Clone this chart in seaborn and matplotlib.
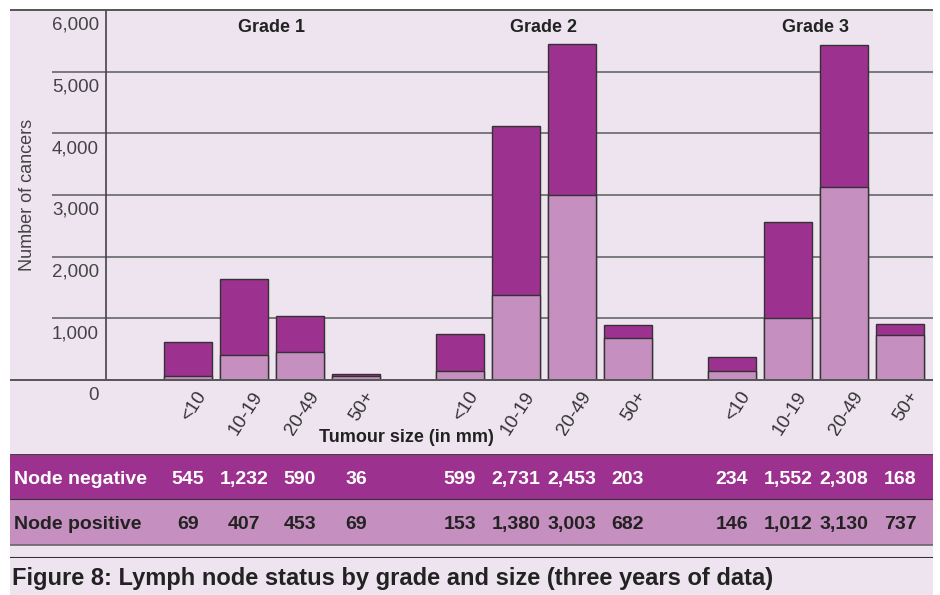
import seaborn as sns
import matplotlib.pyplot as plt
import pandas as pd
from matplotlib.patches import Rectangle
from matplotlib.transforms import ScaledTranslation

grades = ["Grade 1", "Grade 2", "Grade 3"]
sizes = ["<10", "10-19", "20-49", "50+"]
node_negative = [545, 1232, 590, 36, 599, 2731, 2453, 203, 234, 1552, 2308, 168]
node_positive = [69, 407, 453, 69, 153, 1380, 3003, 682, 146, 1012, 3130, 737]
y_ticks = [0, 1000, 2000, 3000, 4000, 5000, 6000]

BG = "#EEE4F0"
DARK = "#9C318F"
LIGHT = "#C58FC0"
TXT = "#222222"
GREY = "#444444"

sns.set_style("white")
plt.rcParams["font.family"] = ["Liberation Sans", "DejaVu Sans"]

W, H = 940, 595
GROUP_STEP = 4.857


def x_of_px(px):
    # pixel -> data unit mapping (one bar slot = 56 px, first bar centre at 188 px)
    return (px - 188) / 56


pos = [g * GROUP_STEP + i for g in range(len(grades)) for i in range(len(sizes))]
df = pd.DataFrame({
    "pos": pos,
    "size": sizes * len(grades),
    "negative": node_negative,
    "positive": node_positive,
})
df["total"] = df["negative"] + df["positive"]

fig = plt.figure(figsize=(W / 100, H / 100), dpi=100)
fig.patch.set_facecolor("white")
fig.patches.append(Rectangle((10 / W, 0), 923 / W, (H - 10) / H,
                             transform=fig.transFigure, facecolor=BG, edgecolor="none", zorder=-10))

ax = fig.add_axes([106 / W, 1 - 380 / H, 827 / W, 370 / H])
ax.set_facecolor(BG)

# stacked bars: total (node negative on top), then node positive at the bottom
sns.barplot(data=df, x="pos", y="total", native_scale=True, color=DARK, saturation=1,
            width=0.84, edgecolor="#333333", linewidth=1, errorbar=None, ax=ax, zorder=2)
sns.barplot(data=df, x="pos", y="positive", native_scale=True, color=LIGHT, saturation=1,
            width=0.84, edgecolor="#333333", linewidth=1, errorbar=None, ax=ax, zorder=3)

ax.set_xlim(x_of_px(106), x_of_px(933))
ax.set_ylim(0, 6000)

# grid lines extend into the label area, the frame lines to the panel edge
ax.hlines(y_ticks[1:-1], x_of_px(52), x_of_px(933), color="#666666", lw=1.2, zorder=1, clip_on=False)
ax.hlines([0, 6000], x_of_px(10), x_of_px(933), color="#555555", lw=1.4, zorder=4, clip_on=False)

for s in ["top", "right", "bottom"]:
    ax.spines[s].set_visible(False)
ax.spines["left"].set_color(GREY)
ax.spines["left"].set_linewidth(1.2)

ax.set_yticks(y_ticks)
ax.set_yticklabels([f"{v:,}" for v in y_ticks], fontsize=13.5, color=GREY, va="top")
ax.tick_params(axis="y", length=0, pad=5)
for lab in ax.get_yticklabels():
    lab.set_transform(lab.get_transform() + ScaledTranslation(0, -5 / 72, fig.dpi_scale_trans))

ax.set_xticks(pos)
ax.set_xticklabels(df["size"], rotation=57, ha="right", va="top", rotation_mode="anchor",
                   fontsize=13.5, color="#333333")
ax.tick_params(axis="x", length=0, pad=6)
for lab in ax.get_xticklabels():
    lab.set_transform(lab.get_transform() + ScaledTranslation(8 / 100, 0, fig.dpi_scale_trans))
ax.set_xlabel("")
ax.set_ylabel("")

for g, name in enumerate(grades):
    centre = g * GROUP_STEP + (len(sizes) - 1) / 2
    ax.text(centre, 5710, name, ha="center", va="center", fontsize=13, fontweight="bold", color=TXT)

fig.text(28 / W, 1 - 195 / H, "Number of cancers", rotation=90, ha="center", va="center",
         fontsize=13, color=GREY)
fig.text(406 / W, 1 - 437 / H, "Tumour size (in mm)", ha="center", va="center",
         fontsize=13, fontweight="bold", color=TXT)

# table of counts
tab = fig.add_axes([10 / W, 1 - 558 / H, 923 / W, 104 / H])
tab.set_xlim(x_of_px(10), x_of_px(933))
tab.set_ylim(104, 0)
tab.axis("off")
tab.axhspan(0, 45, color=DARK, lw=0)
tab.axhspan(45, 91, color=LIGHT, lw=0)
tab.axhline(0, color="#444444", lw=1.5)
tab.axhline(45, color="#333333", lw=0.8)
tab.axhline(91, color="#666666", lw=1.2)
tab.axhline(103.5, color="#333333", lw=1.5)

row_y = {"neg": 30, "pos": 75}
tab.text(x_of_px(14), row_y["neg"], "Node negative", ha="left", va="baseline", fontsize=14,
         fontweight="bold", color="white")
tab.text(x_of_px(14), row_y["pos"], "Node positive", ha="left", va="baseline", fontsize=14,
         fontweight="bold", color=TXT)
for p, neg, posv in zip(pos, node_negative, node_positive):
    tab.text(p, row_y["neg"], f"{neg:,}", ha="center", va="baseline", fontsize=14,
             fontweight="bold", color="white")
    tab.text(p, row_y["pos"], f"{posv:,}", ha="center", va="baseline", fontsize=14,
             fontweight="bold", color=TXT)

fig.text(12 / W, 1 - 578 / H, "Figure 8: Lymph node status by grade and size (three years of data)",
         ha="left", va="center", fontsize=17, fontweight="bold", color=TXT)

fig.savefig("out.png", dpi=100)
